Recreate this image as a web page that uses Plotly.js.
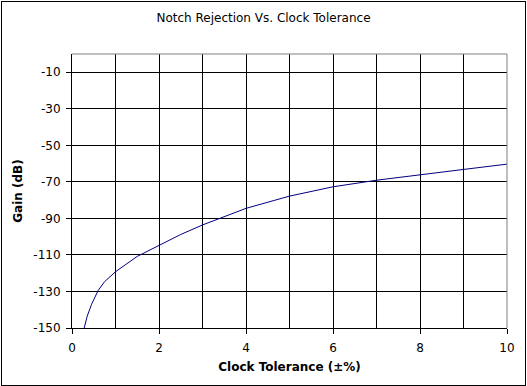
<!DOCTYPE html>
<html>
<head>
<meta charset="utf-8">
<script src="https://cdn.plot.ly/plotly-3.0.1.min.js"></script>
<style>
html,body{margin:0;padding:0;background:#fff;}
#chart{position:absolute;left:0;top:0;width:527px;height:386px;}
#frame{position:absolute;left:1px;top:1px;width:523px;height:383px;border:1px solid #000;pointer-events:none;}
</style>
</head>
<body>
<div id="chart"></div>
<div id="frame"></div>
<script>
var tolerance = [0.28, 0.35, 0.45, 0.6, 0.75, 1.0, 1.5, 2.0, 2.5, 3.0, 3.5, 4.0, 5.0, 6.0, 7.0, 8.0, 9.0, 10.0];
var gainDb =    [-150, -143.5, -137, -129.5, -124.6, -119.2, -110.8, -104.6, -98.8, -93.6, -89.0, -84.5, -77.8, -72.7, -69.1, -66.0, -63.2, -60.3];
var xTicks = [0, 2, 4, 6, 8, 10];
var yTicks = [-150, -130, -110, -90, -70, -50, -30, -10];

var font = "Verdana, 'DejaVu Sans', sans-serif";
var data = [{
  x: tolerance, y: gainDb, type: 'scatter', mode: 'lines',
  line: {color: '#000080', width: 1}, hoverinfo: 'none'
}];
var layout = {
  width: 527, height: 386,
  margin: {l: 72, r: 20, t: 54, b: 58},
  paper_bgcolor: '#ffffff', plot_bgcolor: '#ffffff',
  showlegend: false,
  font: {family: font, size: 12, color: '#000'},
  title: {text: 'Notch Rejection Vs. Clock Tolerance', font: {family: font, size: 12, color: '#000'}, x: 0.5, xanchor: 'center', y: 0.953, yanchor: 'middle'},
  xaxis: {
    range: [0, 10], tickvals: xTicks, ticktext: xTicks.map(String),
    ticks: 'outside', ticklen: 5, tickcolor: '#000', tickwidth: 1, ticklabelstandoff: 4,
    showline: true, linecolor: '#000', linewidth: 1,
    showgrid: true, gridcolor: '#000', gridwidth: 1,
    minor: {tickvals: [1, 3, 5, 7, 9], showgrid: true, gridcolor: '#000', gridwidth: 1, ticks: ''},
    zeroline: false, fixedrange: true,
    tickfont: {family: font, size: 12, color: '#000'},
    title: {text: '<b>Clock Tolerance (±%)</b>', font: {family: font, size: 12, color: '#000'}, standoff: 8}
  },
  yaxis: {
    range: [-150, 0], tickvals: yTicks, ticktext: yTicks.map(function(v){return v.toString();}),
    ticks: 'outside', ticklen: 5, tickcolor: '#000', tickwidth: 1, ticklabelstandoff: 3,
    showline: true, linecolor: '#000', linewidth: 1,
    showgrid: true, gridcolor: '#000', gridwidth: 1,
    zeroline: false, fixedrange: true,
    tickfont: {family: font, size: 12, color: '#000'},
    title: {text: '<b>Gain (dB)</b>', font: {family: font, size: 12, color: '#000'}, standoff: 8}
  },
  shapes: [
    {type: 'line', xref: 'paper', yref: 'paper', x0: 0, x1: 1, y0: 1, y1: 1, line: {color: '#808080', width: 1}, layer: 'above'},
    {type: 'line', xref: 'paper', yref: 'paper', x0: 1, x1: 1, y0: 0, y1: 1, line: {color: '#808080', width: 1}, layer: 'above'}
  ]
};
Plotly.newPlot('chart', data, layout, {displayModeBar: false, staticPlot: true});
</script>
</body>
</html>
